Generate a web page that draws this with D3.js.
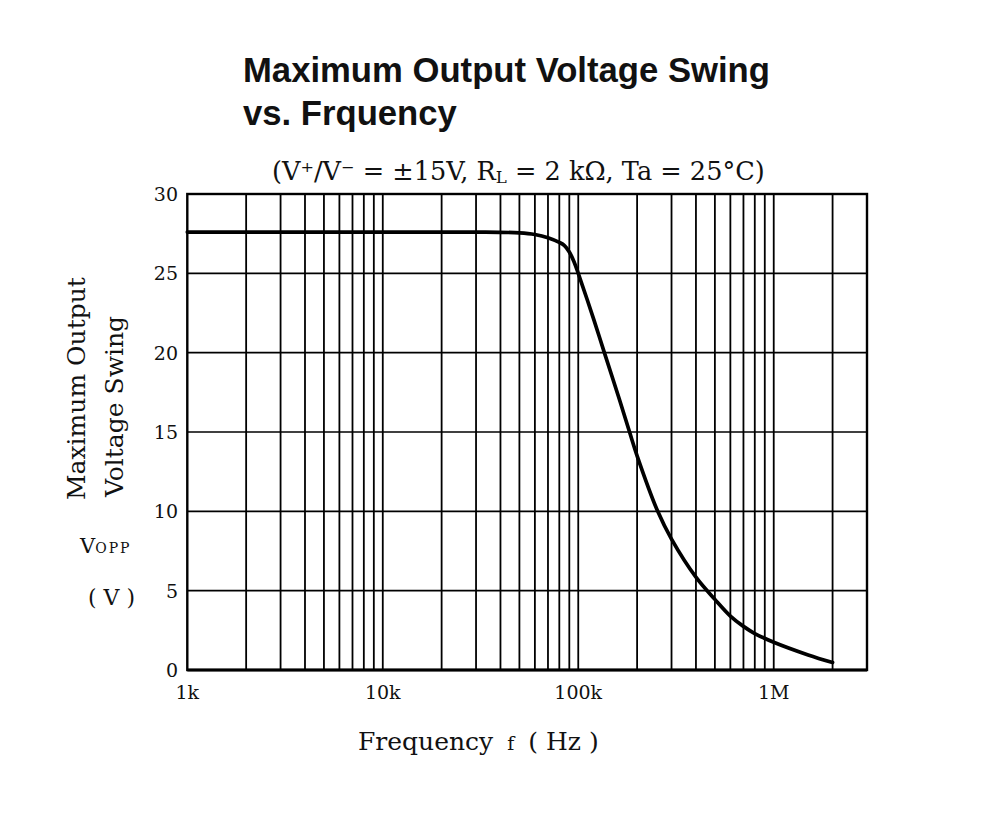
<!DOCTYPE html>
<html>
<head>
<meta charset="utf-8">
<script src="https://cdn.jsdelivr.net/npm/d3@7"></script>
<style>
html,body{margin:0;padding:0;background:#fff;}
svg{display:block;}
</style>
</head>
<body>
<svg id="chart" width="984" height="813"></svg>
<script>
// ---- data ----
const titleLines = ["Maximum Output Voltage Swing", "vs. Frquency"];
const freqHz = [1e3, 1e4, 3e4, 5e4, 6e4, 7e4, 8e4, 8.5e4, 9e4, 9.5e4, 1e5, 1.2e5, 1.36e5, 1.6e5, 1.83e5, 2e5, 2.55e5, 3e5, 4e5, 5e5, 6e5, 7e5, 8e5, 1e6, 1.5e6, 2e6];
const swingV = [27.6, 27.6, 27.6, 27.55, 27.45, 27.25, 26.95, 26.75, 26.35, 25.75, 25.0, 22.1, 20.0, 17.3, 15.0, 13.5, 10.0, 8.25, 5.85, 4.45, 3.4, 2.75, 2.3, 1.75, 0.95, 0.47];
const yTicks = [0, 5, 10, 15, 20, 25, 30];
const xTickValues = [1e3, 1e4, 1e5, 1e6];
const xTickLabels = ["1k", "10k", "100k", "1M"];
const xGridValues = [2e3,3e3,4e3,5e3,6e3,7e3,8e3,9e3,1e4,2e4,3e4,4e4,5e4,6e4,7e4,8e4,9e4,1e5,2e5,3e5,4e5,5e5,6e5,7e5,8e5,9e5,1e6,2e6];
const yAxisTitle = ["Maximum Output", "Voltage Swing"];
const xAxisTitle = "Frequency";

// ---- layout ----
const svg = d3.select("#chart");
const L = 187.3, R = 867, T = 194, B = 670;
const x = d3.scaleLog().domain([1e3, 3e6]).range([L, R]);
const y = d3.scaleLinear().domain([0, 30]).range([B, T]);
const serif = "'DejaVu Serif', serif";
const sans = "'Liberation Sans', Arial, sans-serif";

function fit(sel, w) {
  const n = sel.node();
  const cur = parseFloat(sel.attr("font-size"));
  const len = n.getComputedTextLength();
  sel.attr("font-size", (cur * w / len).toFixed(2));
}

// title
const t1 = svg.append("text").attr("x", 243).attr("y", 82).attr("font-family", sans)
  .attr("font-weight", "bold").attr("font-size", 34).attr("fill", "#111").text(titleLines[0]);
fit(t1, 527);
svg.append("text").attr("x", 243).attr("y", 125).attr("font-family", sans)
  .attr("font-weight", "bold").attr("font-size", t1.attr("font-size")).attr("fill", "#111").text(titleLines[1]);

// condition subtitle
const sub = svg.append("text").attr("x", 272).attr("y", 180).attr("font-family", serif)
  .attr("font-size", 21).attr("fill", "#111");
sub.append("tspan").text("(V⁺/V⁻ = ±15V,  R");
sub.append("tspan").attr("font-size", "0.65em").attr("dy", 3).text("L");
sub.append("tspan").attr("dy", -3).text(" = 2 kΩ,  Ta = 25°C)");
(function(){
  const len = sub.node().getComputedTextLength();
  sub.attr("font-size", (21 * 493 / len).toFixed(2));
})();

// grid
const g = svg.append("g");
g.selectAll("line.vg").data(xGridValues).enter().append("line")
  .attr("x1", d => x(d)).attr("x2", d => x(d)).attr("y1", T).attr("y2", B)
  .attr("stroke", "#000").attr("stroke-width", 1.8);
g.selectAll("line.hg").data(yTicks.filter(v => v > 0 && v < 30)).enter().append("line")
  .attr("x1", L).attr("x2", R).attr("y1", d => y(d)).attr("y2", d => y(d))
  .attr("stroke", "#000").attr("stroke-width", 1.6);

// frame
svg.append("rect").attr("x", L).attr("y", T).attr("width", R - L).attr("height", B - T)
  .attr("fill", "none").attr("stroke", "#000").attr("stroke-width", 2.4);
svg.append("line").attr("x1", L).attr("x2", R).attr("y1", B).attr("y2", B)
  .attr("stroke", "#000").attr("stroke-width", 3.2);

// curve
const line = d3.line().x((d, i) => x(freqHz[i])).y(d => y(d)).curve(d3.curveCatmullRom.alpha(0.5));
svg.append("path").attr("d", line(swingV)).attr("fill", "none")
  .attr("stroke", "#000").attr("stroke-width", 3.7).attr("stroke-linecap", "round");

// y ticks
svg.append("g").selectAll("text").data(yTicks).enter().append("text")
  .attr("x", 178).attr("y", d => y(d) + 7).attr("text-anchor", "end")
  .attr("font-family", serif).attr("font-size", 19).attr("fill", "#111").text(d => d);

// x ticks
svg.append("g").selectAll("text").data(xTickValues).enter().append("text")
  .attr("x", d => x(d)).attr("y", 699).attr("text-anchor", "middle")
  .attr("font-family", serif).attr("font-size", 19).attr("fill", "#111")
  .text((d, i) => xTickLabels[i]);

// y axis title
svg.append("text").attr("transform", "translate(85,500) rotate(-90)")
  .attr("font-family", serif).attr("font-size", 25).attr("fill", "#111").text(yAxisTitle[0]);
svg.append("text").attr("transform", "translate(123,497) rotate(-90)")
  .attr("font-family", serif).attr("font-size", 25).attr("fill", "#111").text(yAxisTitle[1]);
const vo = svg.append("text").attr("x", 80).attr("y", 553).attr("font-family", serif)
  .attr("font-size", 21).attr("fill", "#111");
vo.append("tspan").text("V");
vo.append("tspan").attr("font-size", 14).attr("letter-spacing", 2).text("OPP");
svg.append("text").attr("x", 88).attr("y", 605).attr("font-family", serif)
  .attr("font-size", 22).attr("fill", "#111").text("( V )");

// x axis title
const xt = svg.append("text").attr("x", 358).attr("y", 750).attr("font-family", serif)
  .attr("font-size", 25).attr("fill", "#111");
xt.append("tspan").text(xAxisTitle);
xt.append("tspan").attr("dx", 14).attr("font-size", 19).text("f");
xt.append("tspan").attr("dx", 14).text("( Hz )");
</script>
</body>
</html>
